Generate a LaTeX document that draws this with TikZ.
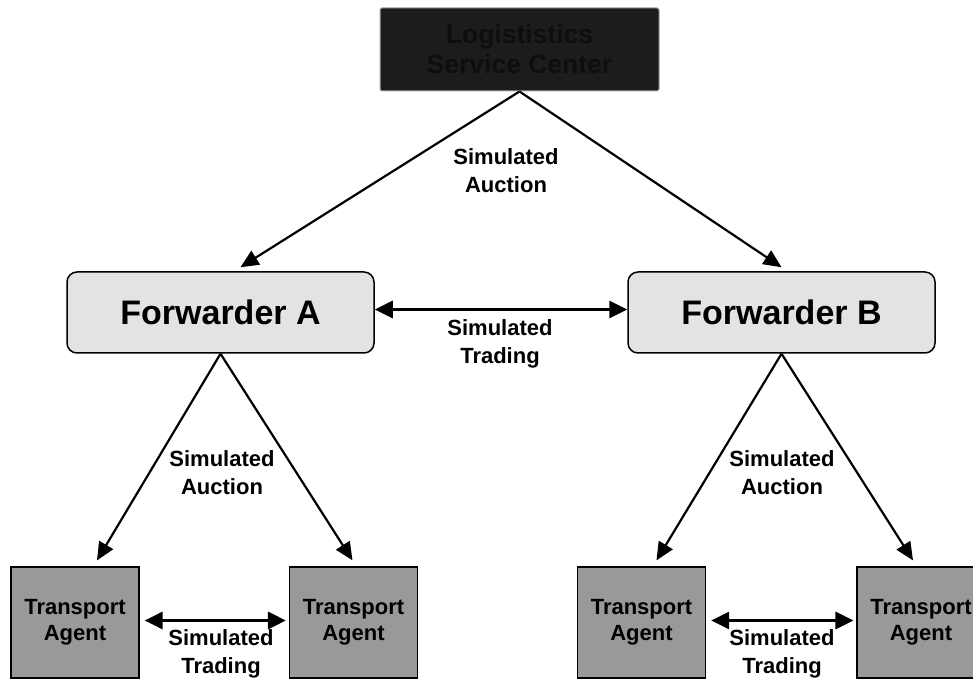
\documentclass[tikz,border=0pt]{standalone}
\usepackage{fontspec}
\setmainfont{Liberation Sans}
\usetikzlibrary{arrows.meta,positioning,calc}
\definecolor{darkbox}{HTML}{1C1C1C}
\definecolor{darktext}{HTML}{0E0E0E}
\definecolor{fwdfill}{HTML}{E3E3E3}
\definecolor{agentfill}{HTML}{999999}

\begin{document}
\begin{tikzpicture}[x=1pt, y=1pt]
  \tikzstyle{center}=[rectangle, draw=gray!70, line width=1pt, fill=darkbox, text=darktext, minimum width=279pt, minimum height=83pt, rounded corners=2pt, align=center, font=\fontsize{26.5}{30}\selectfont\bfseries]
  \tikzstyle{forwarder}=[rectangle, draw, line width=1.5pt, fill=fwdfill, minimum width=307pt, minimum height=81pt, rounded corners=10pt, font=\fontsize{34}{40}\selectfont\bfseries]
  \tikzstyle{agent}=[rectangle, draw, line width=1.2pt, fill=agentfill, minimum width=128pt, minimum height=111pt, align=center, font=\fontsize{22}{26}\selectfont\bfseries]
  \tikzstyle{lbl}=[align=center, font=\fontsize{22}{28}\selectfont\bfseries]
  \tikzstyle{link}=[line width=2.2pt, -{Triangle[length=18pt,width=16pt]}]
  \tikzstyle{trade}=[line width=3pt, {Triangle[length=18pt,width=17pt]}-{Triangle[length=18pt,width=17pt]}]

  \useasboundingbox (0,0) rectangle (973,682);

  \node[center] (lsc) at (519.5,632.5) {Logististics\\Service Center};
  \node[forwarder] (fa) at (220.5,369.5) {Forwarder A};
  \node[forwarder] (fb) at (781.5,369.5) {Forwarder B};
  \node[agent] (ta1) at (75,59.5) {Transport\\Agent};
  \node[agent] (ta2) at (353.5,59.5) {Transport\\Agent};
  \node[agent] (ta3) at (641.5,59.5) {Transport\\Agent};
  \node[agent] (ta4) at (921,59.5) {Transport\\Agent};

  % auction from the service center
  \draw[link] (lsc.south) -- ($(fa.north)+(20,4)$);
  \draw[link] (lsc.south) -- ($(fb.north)+(0,4)$);
  \node[lbl] (auc0) at (506,511) {Simulated\\Auction};

  % trading between forwarders
  \draw[trade] ([yshift=3pt]fa.east) -- ([yshift=3pt]fb.west);
  \node[lbl] (trd0) at (500,338) {Simulated\\Trading};

  % forwarder A and its agents
  \draw[link] (fa.south) -- ($(ta1.north)+(22,6)$);
  \draw[link] (fa.south) -- ($(ta2.north)+(-1,6)$);
  \node[lbl] (auc1) at (222,209) {Simulated\\Auction};
  \draw[trade, shorten <=5pt, shorten >=3pt] ([yshift=2pt]ta1.east) -- ([yshift=2pt]ta2.west);
  \node[lbl] (trd1) at (221,28) {Simulated\\Trading};

  % forwarder B and its agents
  \draw[link] (fb.south) -- ($(ta3.north)+(15,6)$);
  \draw[link] (fb.south) -- ($(ta4.north)+(-8,6)$);
  \node[lbl] (auc2) at (782,209) {Simulated\\Auction};
  \draw[trade, shorten <=5pt, shorten >=3pt] ([yshift=2pt]ta3.east) -- ([yshift=2pt]ta4.west);
  \node[lbl] (trd2) at (782,28) {Simulated\\Trading};
\end{tikzpicture}
\end{document}
